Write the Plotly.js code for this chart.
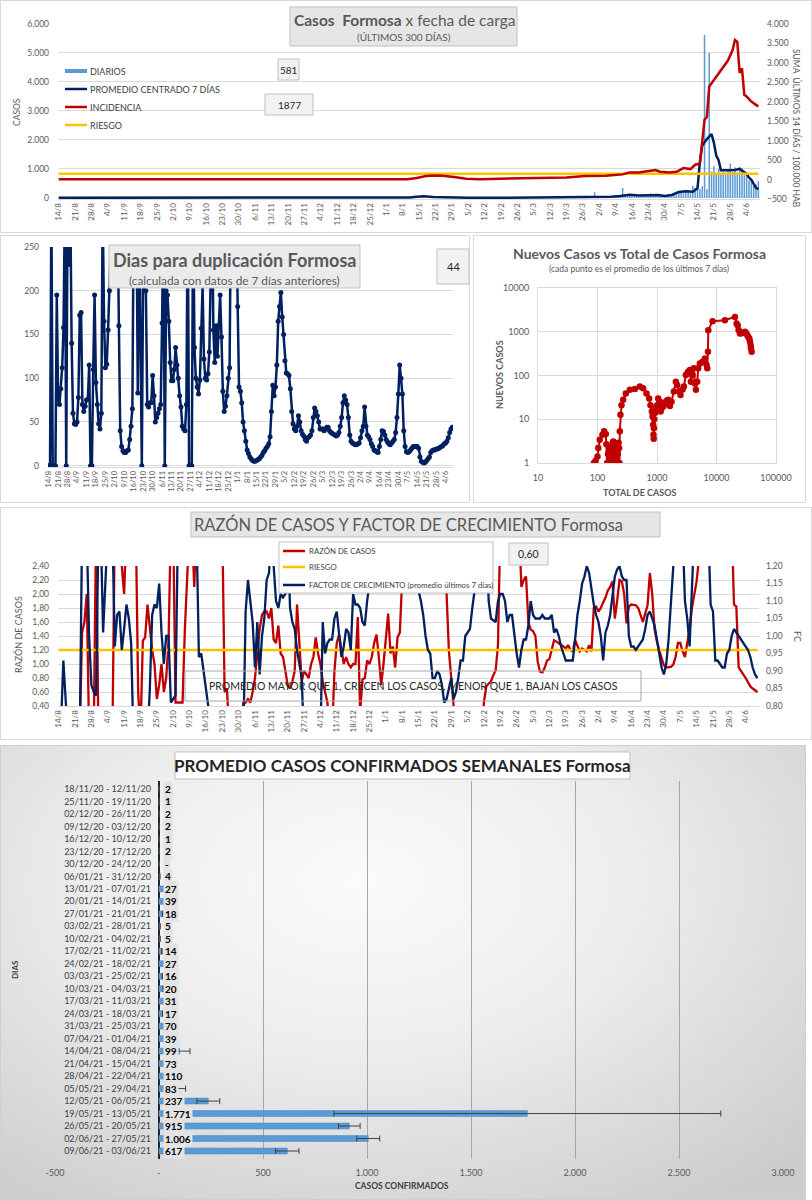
<!DOCTYPE html>
<html><head><meta charset="utf-8">
<script src="https://cdn.plot.ly/plotly-3.0.1.min.js"></script>
<style>
body{margin:0;background:#fff;width:812px;height:1200px;position:relative;overflow:hidden;}
.frame{position:absolute;box-sizing:border-box;border:1px solid #d9d9d9;background:#fff;}
.plot{position:absolute;}
</style></head><body>
<div class="frame" style="left:0;top:0;width:812px;height:233px"></div>
<div class="frame" style="left:0;top:235px;width:470px;height:268px"></div>
<div class="frame" style="left:473px;top:235px;width:333px;height:268px"></div>
<div class="frame" style="left:0;top:507px;width:812px;height:233px"></div>
<div class="frame" style="left:0;top:745px;width:806px;height:455px;border-color:#cfcfcf;background:radial-gradient(ellipse 75% 85% at 45% 30%, #fbfbfb 0%, #ededed 45%, #cdcdcd 100%);"></div>
<div id="c1" class="plot" style="left:0;top:0"></div>
<div id="c3" class="plot" style="left:0;top:235px"></div>
<div id="c4" class="plot" style="left:473px;top:235px"></div>
<div id="c5" class="plot" style="left:0;top:507px"></div>
<div id="c6" class="plot" style="left:0;top:745px"></div>
<script>
// ---------------- DATA ----------------
// weekly tick labels (day 0 = 14/8/2020, one label every 7 days)
const tickLabels = ["14/8","21/8","28/8","4/9","11/9","18/9","25/9","2/10","9/10","16/10","23/10","30/10","6/11","13/11","20/11","27/11","4/12","11/12","18/12","25/12","1/1","8/1","15/1","22/1","29/1","5/2","12/2","19/2","26/2","5/3","12/3","19/3","26/3","2/4","9/4","16/4","23/4","30/4","7/5","14/5","21/5","28/5","4/6"];

// Chart 1: daily cases (from day 223 = 25/3 to day 299 = 9/6)
const diaStart = 223;
const diarios = [30,40,50,60,50,60,200, 30,40,45,50,35,38,35, 40,50,60,70,340,73,60, 80,60,90,70,60,80,71,
  90,120,150,130,100,90,90, 60,40,90,70,110,100,111, 200,180,180,270,250,160,420,
  350,430,300,400,5620,300,5000, 900,1100,850,1000,800,900,850, 950,1180,900,1050,880,1060,1020,
  780,850,600,560,480,470,581];
// 7-day centred average (day, cases)
const promDay = [0,30,60,90,120,140,150,153,156,160,165,175,190,210,220,228,232,236,240,244,248,252,256,259,262,265,268,271,273,274,275,277,279,280,281,282,283,285,287,289,291,292,294,295,296,297,298,299];
const promVal = [1,2,3,2,2,3,15,40,55,30,15,5,5,10,15,30,40,35,60,110,80,95,100,60,100,200,230,210,330,1230,1800,2030,2200,1900,1460,1300,950,950,960,960,1000,950,830,700,620,480,340,300];
// 14-day incidence per 100.000 (day, value)
const incDay = [0,20,40,60,80,100,120,140,149,153,157,160,164,169,174,180,188,198,208,217,225,234,241,244,248,251,255,257,261,264,267,270,272,274,275,276,277,278,280,283,285,286,288,289,290,291,292,293,294,296,298,299];
const incVal = [10,8,10,12,8,10,10,12,5,39,90,107,99,65,22,10,22,30,39,56,90,99,133,184,184,210,244,201,184,201,296,270,381,407,900,1540,1610,2390,2560,2820,2970,3060,3330,3590,3540,2740,2860,2180,2135,2005,1920,1877];
const riesgoIncDay = [0,299];
const riesgoInc = [150,150];

// Chart 3: days to double (daily, day 0..299)
const duplicacion = [
 0,0,300,0,0,0,195, 75,70,88,112,158,300,0, 300,230,300,140,60,48,47, 50,78,172,175,70,62,68,
 75,76,115,0,0,110,195, 95,70,48,42,60,300,165, 112,116,155,200,300,300,300, 300,300,300,160,40,22,17,
 15,15,17,18,30,45,65, 300,300,300,83,300,145,0, 230,200,200,70,67,72,72, 103,80,50,55,60,65,70,
 163,300,0,200,195,165,118, 97,97,110,135,115,100,80, 67,45,42,40,70,300,0, 0,0,300,135,100,90,82,
 98,157,205,122,100,98,105, 130,300,300,155,118,160,125, 160,195,147,85,62,68,80, 100,112,300,300,300,300,300,
 182,90,85,72,50,40,28, 18,14,10,8,6,5,5, 6,7,8,10,12,15,17, 20,22,25,33,62,92,80,
 90,115,165,182,198,170,150, 120,106,105,103,88,62,48, 42,40,45,57,50,40,36, 34,30,28,32,33,35,40,
 55,66,62,57,50,42,42, 42,40,42,44,44,40,38, 37,36,35,34,35,38,45, 55,72,80,75,70,55,35,
 28,26,25,24,24,25,26, 32,40,45,67,45,35,33, 30,25,22,18,17,16,15, 22,30,40,39,35,30,27,
 25,24,26,28,30,38,55, 82,115,100,82,40,22,16, 15,16,18,20,22,22,22, 22,20,10,5,4,3,4,
 6,8,10,15,17,18,18, 19,19,20,21,22,23,25, 26,28,32,38,42,44];

// Chart 4: total cases vs new cases (7-day average)
const scTotal = [87,93,100,103,109,121,129,138,141,145,150,155,160,165,170,175,180,184,190,195,200,208,214,220,226,231,234,237,243,253,270,299,349,424,514,585,666,738,777,819,842,862,872,880,888,900,930,956,1007,1046,1080,1116,1150,1191,1270,1340,1408,1480,1541,1650,1754,1920,2075,2185,2361,2486,2687,2829,3057,3200,3346,3450,3569,3710,3958,4169,4332,4504,4743,4930,5260,5830,6380,6808,7000,7180,7270,8590,13840,20400,21780,22650,23500,24780,26430,28000,30080,31500,32940,34300,35580,36500,37480,37960,38940];
const scNew = [1.0,1.13,1.4,2.2,3.4,4.4,5.3,4.6,2.7,1.0,1.6,1.0,2.0,1.3,2.4,1.0,2.9,3.1,1.1,1.0,2.0,2.6,1.0,1.6,2.9,2.2,1.0,5.3,12.6,21,28,39,47,49,56,51,39,30,21,15,11.6,7.5,4.4,3.6,6.2,10,14,17.9,21,30,22,25,15,17.9,19.5,22,25,27,28,20,25,43,72,61,43,36,48,56,103,110,122,116,133,72,103,146,66,47,72,146,189,207,246,173,146,349,1087,1744,1836,2186,1541,1413,1100,913,920,960,995,940,830,760,702,600,495,420,349];

// Chart 5: case ratio (left) and growth factor (right), daily day 0..299
const razon = [
 0,0,0,0,0,0,0, 0,0,0,1.45,1.6,2.0,0, 0,0,3,0,0,0,0, 0,0,0,3,3,3,2.4,
 2.0,3,3,3,3,3,0.6, 0,1.33,1.38,1.85,1.55,1.2,1.0, 0.5,0.7,1.0,0.6,0.8,1.3,3, 3,0.45,0.45,0.45,0.45,1.5,3,
 3,3,2.1,3,3,3,3, 3,3,3,3,3,3,3, 3,0.6,0.65,0,0,0,0, 0,0,0.45,0.45,0.5,0.45,0.6,
 0.8,1.15,1.5,1.7,1.75,1.75,1.65, 1.8,1.35,1.3,1.55,1.15,1.1,0.9, 0.7,0.65,0.75,0.9,1.85,1.3,0.75, 0.9,0.85,0.8,1.0,1.1,1.38,1.15,
 1.0,0.75,0.6,0.45,0,0,0.9, 1.3,1.42,1.2,1.0,1.1,1.0,0.95, 1.0,1.0,1.67,0.3,0.78,0.8,1.05, 1.0,1.1,1.3,1.42,1.1,0.7,1.0,
 1.4,1.72,1.15,1.25,0.95,1.38,1.45, 2.0,3,3,3,3,3,3, 3,3,3,3,3,3,3, 3,3,3,3,3,2.0,1.18,
 0.8,0.5,0,0,0,0,0, 0,0,0,0,0,0,0, 0.46,0.68,0.72,0.75,0.84,0.91,1.27, 3,3,3,3,3,3,3,
 3,3,2.1,2.2,2.25,1.6,1.49, 1.47,1.4,1.03,0.89,0.88,0.95,1.05, 1.07,1.2,1.34,1.32,1.3,1.28,1.25, 1.22,1.27,1.2,1.18,1.34,1.27,1.18,
 1.22,1.2,1.18,1.27,1.18,1.8,1.82, 1.75,1.8,1.88,1.95,2.05,2.1,2.18, 1.65,1.9,2.2,2.18,2.0,1.58,1.82, 1.85,1.85,1.84,1.8,1.7,1.6,1.72,
 1.84,2.3,2.0,1.5,1.32,1.2,1.1, 0.98,0.95,0.96,0.96,0.99,1.1,1.3, 1.3,1.18,1.1,1.3,1.5,1.8,2.01, 2.18,2.5,3,3,3,3,3,
 3,3,3,3,3,3,3, 3,3,1.85,1.82,0.95,0.9,0.86, 0.8,0.74,0.68,0.65,0.63,0.6];
const factorCrec = [
 0.7,0.75,0.93,0.7,0.7,0.7,0.7, 0.7,0.7,0.7,1.3,1.3,1.3,1.0, 0.86,0.84,0.83,1.3,1.3,1.01,1.3, 1.3,1.3,1.3,0.97,1.06,1.07,0.96,
 1.02,1.09,1.05,0.98,0.7,0.7,0.7, 0.7,0.7,0.7,0.7,0.85,1.06,1.09, 1.08,1.15,1.01,0.92,1.0,1.0,0.81, 0.82,0.83,1.3,1.3,1.3,1.3,1.3,
 1.3,1.3,1.3,1.3,0.94,0.95,0.9, 0.85,0.8,0.7,0.7,0.7,0.7,0.7, 0.7,0.7,0.7,0.7,0.7,0.7,0.7, 0.7,0.7,0.7,1.07,1.16,1.1,1.04,
 0.91,1.04,0.89,1.0,1.05,1.16,1.18, 1.3,1.2,1.1,1.08,1.12,1.11,1.12, 1.3,1.08,1.04,1.02,0.96,0.92,0.88, 0.7,0.7,0.7,0.7,0.7,0.7,0.7,
 0.7,1.04,0.95,0.98,0.99,0.99,1.05, 1.07,1.0,0.94,0.97,1.02,1.01,0.96, 1.12,1.09,1.09,1.08,1.04,1.03,1.1, 1.15,1.2,1.3,1.3,1.3,1.3,1.3,
 1.3,1.3,1.3,1.3,1.3,1.3,1.3, 1.3,1.3,1.3,1.3,1.3,1.3,1.2, 1.13,1.1,1.06,1.0,0.96,0.95,0.88, 0.88,0.9,0.89,0.86,0.81,0.82,0.85,
 0.88,0.82,0.84,0.88,0.93,0.93,1.0, 1.01,1.02,1.08,1.13,1.3,1.3,1.3, 1.3,1.3,1.1,1.05,1.045,1.04,1.1, 1.12,1.12,1.1,1.04,1.06,1.06,1.0,
 0.95,0.91,0.96,0.99,0.99,1.03,1.1, 1.06,1.05,1.05,1.05,1.06,1.05,1.05, 1.05,1.06,1.01,1.02,1.0,0.97,0.95, 0.93,0.93,0.93,0.93,0.99,1.06,1.1,
 1.15,1.17,1.2,1.18,1.13,1.09,1.06, 1.04,1.0,0.93,1.01,1.03,1.06,1.12, 1.17,1.19,1.2,1.17,1.16,1.16,1.0, 0.97,0.97,0.96,0.97,0.98,0.99,1.02,
 1.06,1.07,1.05,1.03,0.99,0.95,0.91, 0.89,0.92,0.99,1.1,1.18,1.3,1.3, 1.3,1.3,1.1,1.05,0.97,1.13,1.3, 1.3,1.3,1.3,1.3,1.3,1.3,1.09,
 1.07,0.93,0.93,0.92,0.91,0.91,0.95, 0.96,1.0,1.02,1.01,1.0,0.99,0.98, 0.97,0.96,0.94,0.91,0.89,0.88];
const riesgoRazonDay = [0,299];
const riesgoRazon = [1.2,1.2];

// Chart 6: weekly average confirmed cases
const semanas = ["18/11/20 - 12/11/20","25/11/20 - 19/11/20","02/12/20 - 26/11/20","09/12/20 - 03/12/20","16/12/20 - 10/12/20","23/12/20 - 17/12/20","30/12/20 - 24/12/20","06/01/21 - 31/12/20","13/01/21 - 07/01/21","20/01/21 - 14/01/21","27/01/21 - 21/01/21","03/02/21 - 28/01/21","10/02/21 - 04/02/21","17/02/21 - 11/02/21","24/02/21 - 18/02/21","03/03/21 - 25/02/21","10/03/21 - 04/03/21","17/03/21 - 11/03/21","24/03/21 - 18/03/21","31/03/21 - 25/03/21","07/04/21 - 01/04/21","14/04/21 - 08/04/21","21/04/21 - 15/04/21","28/04/21 - 22/04/21","05/05/21 - 29/04/21","12/05/21 - 06/05/21","19/05/21 - 13/05/21","26/05/21 - 20/05/21","02/06/21 - 27/05/21","09/06/21 - 03/06/21"];
const promSemanal = [2,1,2,2,1,2,0,4,27,39,18,5,5,14,27,16,20,31,17,70,39,99,73,110,83,237,1771,915,1006,617];
const errSemanal = [0,0,0,0,0,0,0,0,0,0,0,0,0,0,0,0,0,0,0,0,0,50,0,0,45,55,930,52,55,56];
const xTickVals6 = [-500,0,500,1000,1500,2000,2500,3000];
const xTickText6 = ["-500","-","500","1.000","1.500","2.000","2.500","3.000"];

// ---------------- HELPERS ----------------
const FONT = 'Lato, "Open Sans", "Noto Sans", sans-serif';
const GREY = '#595959';
function conv(W,H,m){const pw=W-m.l-m.r, ph=H-m.t-m.b; return {x:p=>(p-m.l)/pw, y:p=>1-(p-m.t)/ph};}
function box(c,x0,y0,x1,y1,fill,line){return {type:'rect',xref:'paper',yref:'paper',x0:c.x(x0),x1:c.x(x1),y0:c.y(y0),y1:c.y(y1),fillcolor:fill,line:{color:line,width:1},layer:'above'};}
function seg(c,x0,x1,y,color,w){return {type:'line',xref:'paper',yref:'paper',x0:c.x(x0),x1:c.x(x1),y0:c.y(y),y1:c.y(y),line:{color:color,width:w},layer:'above'};}
function txt(c,x,y,text,size,color,opt){return Object.assign({xref:'paper',yref:'paper',x:c.x(x),y:c.y(y),text:text,showarrow:false,font:{family:FONT,size:size,color:color},xanchor:'center',yanchor:'middle'},opt||{});}
function fmtMiles(v){ if(v===0) return '-'; return String(v).replace(/\B(?=(\d{3})+(?!\d))/g,'.'); }
const tickDays = tickLabels.map((_,i)=>i*7);
const cfg = {displayModeBar:false, staticPlot:true};

// ---------------- CHART 1 ----------------
(function(){
 const W=812,H=233,m={l:58,r:52,t:24,b:34}; const C=conv(W,H,m);
 const traces=[
  {type:'bar',x:diarios.map((_,i)=>diaStart+i),y:diarios,width:0.65,marker:{color:'#5b9bd5'},name:'DIARIOS'},
  {type:'scatter',mode:'lines',x:promDay,y:promVal,line:{color:'#002060',width:2.5},name:'PROMEDIO CENTRADO 7 DÍAS'},
  {type:'scatter',mode:'lines',x:riesgoIncDay,y:riesgoInc,yaxis:'y2',line:{color:'#ffc000',width:2.5},name:'RIESGO'},
  {type:'scatter',mode:'lines',x:incDay,y:incVal,yaxis:'y2',line:{color:'#c00000',width:2.5},name:'INCIDENCIA'}
 ];
 const leg=[['DIARIOS',71],['PROMEDIO CENTRADO 7 DÍAS',89],['INCIDENCIA',107],['RIESGO',125]];
 Plotly.newPlot('c1',traces,{
  width:W,height:H,margin:Object.assign({pad:0},m),paper_bgcolor:'rgba(0,0,0,0)',plot_bgcolor:'rgba(0,0,0,0)',
  separators:',.',showlegend:false,font:{family:FONT,size:8,color:GREY},
  xaxis:{range:[-0.3,299.7],tickvals:tickDays,ticktext:tickLabels,tickangle:-90,showgrid:false,zeroline:false,showline:true,linecolor:'#d9d9d9',ticks:'',tickfont:{size:8,color:GREY}},
  yaxis:{range:[-40,6000],tickvals:[0,1000,2000,3000,4000,5000,6000],tickformat:',d',gridcolor:'#d9d9d9',zeroline:false,ticks:'',ticklabelstandoff:8,tickfont:{size:8.5,color:GREY}},
  yaxis2:{range:[-500,4000],dtick:500,tickformat:',d',overlaying:'y',side:'right',showgrid:false,zeroline:false,ticks:'',ticklabelstandoff:6,tickfont:{size:8.5,color:GREY}},
  shapes:[
   box(C,290,7,517,46,'#e7e6e6','#bfbfbf'),
   box(C,278,59,299,80,'#f2f2f2','#bfbfbf'),
   box(C,265,94,313,115,'#f2f2f2','#bfbfbf'),
   {type:'rect',xref:'paper',yref:'paper',x0:C.x(65),x1:C.x(87),y0:C.y(69),y1:C.y(73),fillcolor:'#5b9bd5',line:{width:0},layer:'above'},
   seg(C,65,87,89,'#002060',2.5), seg(C,65,87,107,'#c00000',2.5), seg(C,65,87,125,'#ffc000',2.5)
  ],
  annotations:[
   txt(C,404,20,'<b>Casos  Formosa</b> x fecha de carga',15.5,GREY),
   txt(C,404,37,'(ÚLTIMOS 300 DÍAS)',10,GREY),
   txt(C,288.5,70,String(diarios[diarios.length-1]),10,'#262626'),
   txt(C,289,104.5,String(incVal[incVal.length-1]),10,'#262626'),
   txt(C,17,112,'CASOS',8.5,GREY,{textangle:-90}),
   txt(C,797,128,'SUMA  ÚLTIMOS 14 DÍAS / 100.000 HAB',8.5,GREY,{textangle:90})
  ].concat(leg.map(l=>txt(C,88,l[1],l[0],9,'#404040',{xanchor:'left'})))
 },cfg);
})();

// ---------------- CHART 3 ----------------
(function(){
 const W=470,H=268,m={l:48,r:17,t:12,b:36}; const C=conv(W,H,m);
 Plotly.newPlot('c3',[{type:'scatter',mode:'lines+markers',x:duplicacion.map((_,i)=>i),y:duplicacion,line:{color:'#002060',width:2.5},marker:{color:'#002060',size:5}}],{
  width:W,height:H,margin:Object.assign({pad:0},m),paper_bgcolor:'rgba(0,0,0,0)',plot_bgcolor:'rgba(0,0,0,0)',
  showlegend:false,font:{family:FONT,size:8,color:GREY},
  xaxis:{range:[-0.5,299.5],tickvals:tickDays,ticktext:tickLabels,tickangle:-90,showgrid:false,zeroline:false,showline:true,linecolor:'#d9d9d9',ticks:'',tickfont:{size:7.5,color:GREY}},
  yaxis:{range:[-1.5,250],tickvals:[0,50,100,150,200,250],gridcolor:'#d9d9d9',zeroline:false,ticks:'',ticklabelstandoff:8,tickfont:{size:8.5,color:GREY}},
  shapes:[box(C,109,10,360,53,'#ebebeb','#bfbfbf'), box(C,437,14,469,49,'#f2f2f2','#bfbfbf')],
  annotations:[
   txt(C,234.5,25,'<b>Dias para duplicación Formosa</b>',18,GREY),
   txt(C,234.5,45,'(calculada con datos de 7 días anteriores)',11.8,GREY),
   txt(C,453,31.5,String(duplicacion[duplicacion.length-1]),11,'#262626')
  ]
 },cfg);
})();

// ---------------- CHART 4 ----------------
(function(){
 const W=333,H=268,m={l:65,r:30,t:53,b:40}; const C=conv(W,H,m);
 Plotly.newPlot('c4',[{type:'scatter',mode:'lines+markers',x:scTotal,y:scNew,line:{color:'#c00000',width:2},marker:{color:'#c00000',size:6.5}}],{
  width:W,height:H,margin:Object.assign({pad:0},m),paper_bgcolor:'rgba(0,0,0,0)',plot_bgcolor:'rgba(0,0,0,0)',
  showlegend:false,font:{family:FONT,size:9,color:GREY},
  xaxis:{type:'log',range:[1,5],dtick:1,tickformat:'d',gridcolor:'#d9d9d9',zeroline:false,showline:true,mirror:true,linecolor:'#d9d9d9',ticks:'',ticklabelstandoff:6,tickfont:{size:9,color:GREY}},
  yaxis:{type:'log',range:[0,4],dtick:1,tickformat:'d',gridcolor:'#d9d9d9',zeroline:false,showline:true,mirror:true,linecolor:'#d9d9d9',ticks:'',ticklabelstandoff:6,tickfont:{size:9,color:GREY}},
  annotations:[
   txt(C,166,19,'<b>Nuevos Casos vs Total de Casos Formosa</b>',14,GREY),
   txt(C,166,34,'(cada punto es el promedio de los últimos 7 días)',8.5,GREY),
   txt(C,166,257,'<b>TOTAL DE CASOS</b>',9,GREY),
   txt(C,26,140,'<b>NUEVOS CASOS</b>',9,GREY,{textangle:-90})
  ]
 },cfg);
})();

// ---------------- CHART 5 ----------------
(function(){
 const W=812,H=233,m={l:58,r:53,t:59,b:34}; const C=conv(W,H,m);
 const dias = razon.map((_,i)=>i);
 const traces=[
  {type:'scatter',mode:'lines',x:dias,y:razon,line:{color:'#c00000',width:2.3},name:'RAZÓN DE CASOS'},
  {type:'scatter',mode:'lines',x:riesgoRazonDay,y:riesgoRazon,line:{color:'#ffc000',width:2.5},name:'RIESGO'},
  {type:'scatter',mode:'lines',x:dias,y:factorCrec,yaxis:'y2',line:{color:'#002060',width:2.3},name:'FACTOR DE CRECIMIENTO (promedio últimos 7 días)'}
 ];
 const leg=[['RAZÓN DE CASOS',44,'#c00000'],['RIESGO',60,'#ffc000'],['FACTOR DE CRECIMIENTO (promedio últimos 7 días)',78,'#002060']];
 const last = razon[razon.length-1].toFixed(2).replace('.',',');
 Plotly.newPlot('c5',traces,{
  width:W,height:H,margin:Object.assign({pad:0},m),paper_bgcolor:'rgba(0,0,0,0)',plot_bgcolor:'rgba(0,0,0,0)',
  separators:',.',showlegend:false,font:{family:FONT,size:8,color:GREY},
  xaxis:{range:[-0.3,299.7],tickvals:tickDays,ticktext:tickLabels,tickangle:-90,showgrid:false,zeroline:false,showline:true,linecolor:'#d9d9d9',ticks:'',tickfont:{size:8,color:GREY}},
  yaxis:{range:[0.4,2.4],dtick:0.2,tickformat:',.2f',gridcolor:'#d9d9d9',zeroline:false,ticks:'',ticklabelstandoff:8,tickfont:{size:8.5,color:GREY}},
  yaxis2:{range:[0.8,1.2],dtick:0.05,tickformat:',.2f',overlaying:'y',side:'right',showgrid:false,zeroline:false,ticks:'',ticklabelstandoff:6,tickfont:{size:8.5,color:GREY}},
  shapes:[
   box(C,191,5,660,30,'#e7e6e6','#bfbfbf'),
   box(C,279,35,493,86,'#ffffff','#bfbfbf'),
   box(C,509,36,548,58,'#f2f2f2','#bfbfbf'),
   box(C,185,164,641,194,'rgba(0,0,0,0)','#a6a6a6')
  ].concat(leg.map(l=>seg(C,283,305,l[1],l[2],2.5))),
  annotations:[
   txt(C,408,17.5,'RAZÓN DE CASOS Y FACTOR DE CRECIMIENTO Formosa',16.5,GREY),
   txt(C,528.5,47,last,10.5,'#262626'),
   txt(C,413,179,'PROMEDIO MAYOR QUE 1, CRECEN LOS CASOS, MENOR QUE 1, BAJAN LOS CASOS',10.5,'#262626'),
   txt(C,18,128,'RAZÓN DE CASOS',9,GREY,{textangle:-90}),
   txt(C,798,130,'FC',9,GREY,{textangle:90})
  ].concat(leg.map(l=>txt(C,307,l[1],l[0],7.8,'#404040',{xanchor:'left'})))
 },cfg);
})();

// ---------------- CHART 6 ----------------
(function(){
 const W=806,H=455,m={l:55,r:23,t:36,b:41}; const C=conv(W,H,m);
 const labels = semanas.map((s,i)=>({xref:'x',yref:'y',x:0,y:s,text:'<b>'+fmtMiles(promSemanal[i])+'</b>',showarrow:false,xanchor:'left',yanchor:'middle',xshift:4,bgcolor:'#e3e3e3',borderpad:1,font:{family:FONT,size:10,color:'#000'}}));
 Plotly.newPlot('c6',[{type:'bar',orientation:'h',y:semanas,x:promSemanal,width:0.48,marker:{color:'#5b9bd5',line:{color:'#4a86c5',width:0.5}},
   error_x:{type:'data',array:errSemanal,visible:true,color:'#404040',thickness:1,width:3}}],{
  width:W,height:H,margin:Object.assign({pad:0},m),paper_bgcolor:'rgba(0,0,0,0)',plot_bgcolor:'rgba(0,0,0,0)',
  showlegend:false,font:{family:FONT,size:9,color:GREY},
  xaxis:{range:[-500,3000],tickvals:xTickVals6,ticktext:xTickText6,gridcolor:'#a6a6a6',zeroline:true,zerolinecolor:'#262626',zerolinewidth:1.5,ticks:'',ticklabelstandoff:7,tickfont:{size:9,color:GREY}},
  yaxis:{type:'category',autorange:'reversed',anchor:'free',position:(159-55)/728,showgrid:false,zeroline:false,ticks:'',ticklabelstandoff:8,tickfont:{size:9,color:'#404040'}},
  shapes:[box(C,175,7,630,34,'#ffffff','#bfbfbf')],
  annotations:[
   txt(C,402.5,20.5,'<b>PROMEDIO CASOS CONFIRMADOS SEMANALES Formosa</b>',17,'#262626'),
   txt(C,15,225,'<b>DIAS</b>',8,'#404040',{textangle:-90}),
   txt(C,402,441,'<b>CASOS CONFIRMADOS</b>',8.5,'#404040')
  ].concat(labels)
 },cfg);
})();
</script>
</body></html>
